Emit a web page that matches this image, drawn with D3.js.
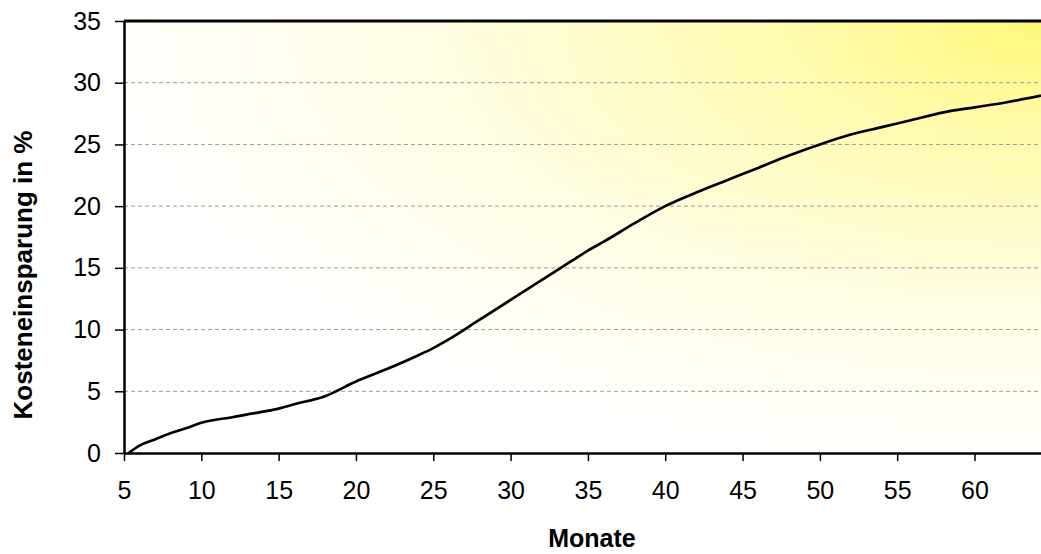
<!DOCTYPE html>
<html><head><meta charset="utf-8">
<script src="https://cdn.jsdelivr.net/npm/d3@7"></script>
<style>body{margin:0;background:#fff;} svg{display:block;}</style>
</head><body>
<svg id="c" width="1041" height="554"></svg>
<script>
const months = [5.3, 6, 7, 8, 9, 10, 12, 14, 15, 16, 18, 20, 22, 24, 25, 26, 28, 30, 32, 34, 35, 36, 38, 40, 42, 44, 45, 46, 48, 50, 52, 54, 55, 56, 58, 60, 62, 64.3];
const savings = [0, 0.6, 1.1, 1.6, 2.0, 2.45, 2.9, 3.35, 3.6, 3.95, 4.6, 5.8, 6.8, 7.9, 8.5, 9.2, 10.8, 12.4, 14.0, 15.6, 16.4, 17.1, 18.6, 20.0, 21.1, 22.1, 22.6, 23.1, 24.1, 25.0, 25.8, 26.4, 26.7, 27.0, 27.6, 28.0, 28.4, 28.95];
const xTicks = [5, 10, 15, 20, 25, 30, 35, 40, 45, 50, 55, 60];
const yTicks = [0, 5, 10, 15, 20, 25, 30, 35];
const xTitle = "Monate";
const yTitle = "Kosteneinsparung in %";

const svg = d3.select("#c");
const L = 124, R = 1041, T = 21, B = 453;
const x = d3.scaleLinear().domain([5, 64.3]).range([L, R]);
const y = d3.scaleLinear().domain([0, 35]).range([B, T]);

const defs = svg.append("defs");
const g = defs.append("radialGradient").attr("id", "bg")
  .attr("cx", 1).attr("cy", 0).attr("fx", 1).attr("fy", 0).attr("r", 1.3);
g.append("stop").attr("offset", 0).attr("stop-color", "#fff87a");
g.append("stop").attr("offset", 0.22).attr("stop-color", "#fffbb0");
g.append("stop").attr("offset", 0.5).attr("stop-color", "#fffde2");
g.append("stop").attr("offset", 0.8).attr("stop-color", "#ffffff");

svg.append("rect").attr("x", L).attr("y", T).attr("width", R - L).attr("height", B - T).attr("fill", "url(#bg)");

// gridlines
svg.append("g").selectAll("line").data(yTicks.filter(d => d > 0 && d < 35)).join("line")
  .attr("x1", L).attr("x2", R).attr("y1", d => y(d)).attr("y2", d => y(d))
  .attr("stroke", "#9a9a9a").attr("stroke-width", 1).attr("stroke-dasharray", "4,3");

// top border
svg.append("line").attr("x1", L).attr("x2", R).attr("y1", T).attr("y2", T).attr("stroke", "#000").attr("stroke-width", 3);

// line
svg.append("path").datum(months.map((m, i) => [m, savings[i]]))
  .attr("fill", "none").attr("stroke", "#000").attr("stroke-width", 2.7)
  .attr("d", d3.line().x(d => x(d[0])).y(d => y(d[1])).curve(d3.curveMonotoneX));

// axes
const xa = svg.append("g").attr("transform", `translate(0,${B})`)
  .call(d3.axisBottom(x).tickValues(xTicks).tickSize(8).tickPadding(20).tickSizeOuter(0));
const ya = svg.append("g").attr("transform", `translate(${L},0)`)
  .call(d3.axisLeft(y).tickValues(yTicks).tickSize(9).tickPadding(14).tickSizeOuter(0));
[xa, ya].forEach(a => {
  a.select(".domain").attr("stroke", "#000").attr("stroke-width", 2.5);
  a.selectAll(".tick line").attr("stroke", "#000").attr("stroke-width", 1.5);
  a.selectAll(".tick text").attr("font-family", "Liberation Sans, Arial, sans-serif").attr("font-size", 25).attr("fill", "#000");
});
xa.selectAll(".tick text").attr("dy", "0.71em");

svg.append("text").attr("x", 592).attr("y", 547).attr("text-anchor", "middle")
  .attr("font-family", "Liberation Sans, Arial, sans-serif").attr("font-weight", "bold").attr("font-size", 25)
  .text(xTitle);
svg.append("text").attr("transform", "translate(32,275) rotate(-90)").attr("text-anchor", "middle")
  .attr("font-family", "Liberation Sans, Arial, sans-serif").attr("font-weight", "bold").attr("font-size", 26)
  .text(yTitle);
</script>
</body></html>
